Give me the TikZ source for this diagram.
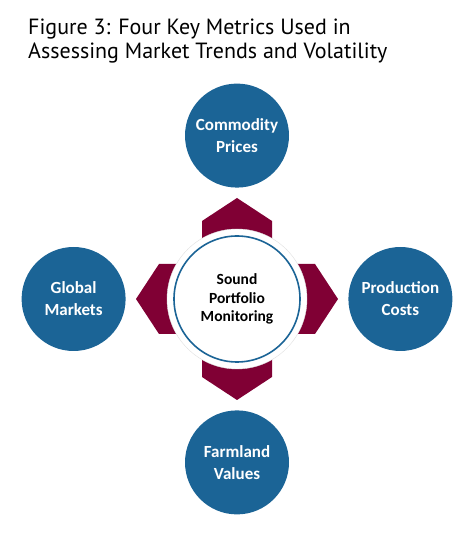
\documentclass[tikz,border=0pt]{standalone}
\usepackage{fontspec}
\setmainfont{Carlito}
\newfontfamily\titlefont{PT Sans}
\usepackage{xcolor}
\usepackage{tikz}
\usetikzlibrary{positioning}
\definecolor{metricblue}{HTML}{1B6496}
\definecolor{arrowred}{HTML}{800034}
\tikzstyle{metric} = [circle, minimum size=104pt, inner sep=0pt, fill=metricblue, text=white, align=center, font=\bfseries\fontsize{17}{22}\selectfont]
\tikzstyle{hub} = [circle, minimum size=140pt, inner sep=0pt, fill=white, draw=gray!25, align=center, font=\bfseries\fontsize{15.5}{18.5}\selectfont]
\tikzstyle{ring} = [draw=metricblue, line width=1.6pt]
\tikzstyle{pointer} = [fill=arrowred]

\begin{document}
\begin{tikzpicture}[x=1pt, y=1pt, node distance=41pt]
    \useasboundingbox (0,0) rectangle (475,543);
    \node[anchor=north west, inner sep=0pt, align=left, font=\titlefont\fontsize{22}{24}\selectfont] (title) at (28,524)
        {Figure 3: Four Key Metrics Used in\\Assessing Market Trends and Volatility};
    % arrows behind the hub
    \coordinate (mid) at (237,244);
    \foreach \ang in {0,90,180,270}
        \fill[pointer, shift={(mid)}, rotate=\ang] (40,-35) -- (78,-35) -- (101,0) -- (78,35) -- (40,35) -- cycle;
    \node[hub] (hub) at (mid) {Sound\\Portfolio\\Monitoring};
    \draw[ring] (hub.center) circle (63);
    % the four metrics
    \node[metric, above=of hub] (prices) {Commodity\\Prices};
    \node[metric, right=of hub] (costs) {Production\\Costs};
    \node[metric, below=of hub] (values) {Farmland\\Values};
    \node[metric, left=of hub] (markets) {Global\\Markets};
\end{tikzpicture}
\end{document}
